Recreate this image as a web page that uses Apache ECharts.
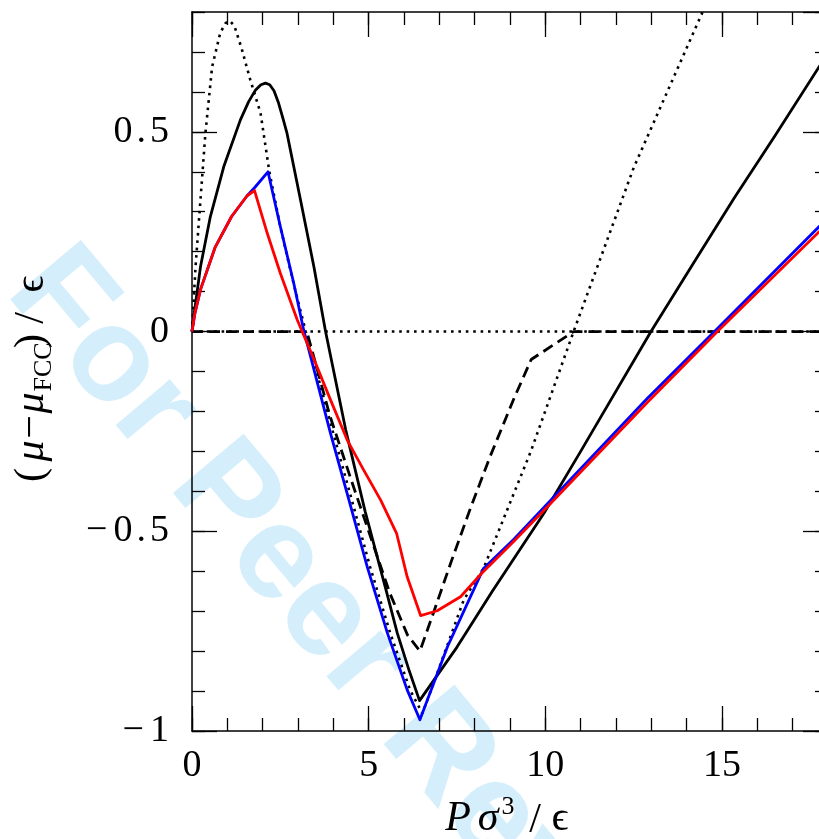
<!DOCTYPE html>
<html><head><meta charset="utf-8">
<script src="https://cdn.jsdelivr.net/npm/echarts@6/dist/echarts.min.js"></script>
<style>html,body{margin:0;padding:0;background:#fff}#c{width:819px;height:839px}</style>
</head><body><div id="c"></div>
<script>
// ---- data ----
const xRange = [0, 18];
const yRange = [-1, 0.8];

const zeroX = [0, 18];
const zeroY = [0, 0];

const dottedX = [0, 0.1, 0.24, 0.38, 0.57, 0.8, 0.95, 1.07, 1.2, 1.4, 1.65, 1.94, 2.19, 2.5, 2.87, 3.22, 4.0, 4.47, 5.04, 5.61, 6.17, 6.52, 6.84, 7.69, 8.25, 9.59, 10.8, 12.5, 14.45, 14.9];
const dottedY = [0, 0.162, 0.33, 0.497, 0.663, 0.748, 0.772, 0.778, 0.765, 0.71, 0.63, 0.547, 0.40, 0.262, 0.122, 0, -0.255, -0.405, -0.589, -0.755, -0.897, -0.956, -0.88, -0.672, -0.593, -0.3, 0, 0.41, 0.8, 0.9];

const dashedX = [0, 3.25, 3.9, 4.5, 5.0, 5.6, 6.1, 6.45, 6.85, 7.32, 7.89, 8.45, 9.1, 9.6, 10.8, 18];
const dashedY = [0, 0, -0.21, -0.37, -0.5, -0.655, -0.76, -0.80, -0.70, -0.58, -0.44, -0.31, -0.17, -0.07, 0, 0];

const solidX = [0, 0.05, 0.24, 0.52, 0.9, 1.37, 1.6, 1.8, 1.95, 2.08, 2.2, 2.32, 2.45, 2.57, 2.69, 3.07, 3.45, 3.78, 4.35, 4.9, 5.5, 5.81, 6.15, 6.44, 7.5, 8.5, 9.96, 11.0, 12.99, 14.2, 15.35, 16.5, 17.75, 18];
const solidY = [0, 0.037, 0.162, 0.288, 0.413, 0.53, 0.575, 0.605, 0.618, 0.622, 0.618, 0.603, 0.572, 0.535, 0.496, 0.33, 0.162, 0, -0.246, -0.45, -0.65, -0.755, -0.85, -0.924, -0.79, -0.65, -0.455, -0.30, 0.0, 0.172, 0.335, 0.49, 0.663, 0.697];

const blueX = [0, 0.08, 0.24, 0.65, 1.12, 1.56, 1.77, 2.15, 2.5, 2.88, 3.16, 3.92, 4.39, 4.96, 5.53, 6.09, 6.45, 7.23, 8.25, 9.11, 10.1, 12.89, 14.83, 17.75, 18];
const blueY = [0, 0.045, 0.105, 0.21, 0.288, 0.34, 0.36, 0.40, 0.263, 0.121, 0.004, -0.255, -0.405, -0.589, -0.755, -0.897, -0.972, -0.789, -0.593, -0.52, -0.427, -0.167, 0.004, 0.263, 0.285];

const redX = [0, 0.08, 0.24, 0.65, 1.12, 1.56, 1.77, 2.13, 2.5, 2.98, 3.45, 3.92, 4.39, 4.86, 5.34, 5.79, 6.09, 6.47, 6.94, 7.6, 8.2, 9.11, 10.1, 12.89, 14.87, 17.75, 18];
const redY = [0, 0.045, 0.105, 0.21, 0.288, 0.34, 0.353, 0.246, 0.146, 0.029, -0.069, -0.171, -0.271, -0.347, -0.422, -0.505, -0.614, -0.711, -0.699, -0.664, -0.605, -0.525, -0.435, -0.177, 0, 0.25, 0.272];

const xTickStep = 5, xMinorStep = 1;
const yTickStep = 0.5, yMinorStep = 0.1;
const watermarkText = 'For Peer Review';

// ---- chart ----
const zip = (xs, ys) => xs.map((x, i) => [x, ys[i]]);
const SERIF = '"Liberation Serif", "DejaVu Serif", serif';
const chart = echarts.init(document.getElementById('c'), null, {renderer: 'canvas'});

function fmtY(v) {
  if (Math.abs(v) < 1e-9) return '0';
  const s = String(Math.abs(v)).replace('.', '{d|.}');
  return (v < 0 ? '{m|\u2212}' : '') + s;
}
const labelRich = {
  d: {fontSize: 38, fontFamily: SERIF, color: '#000', padding: [0, 4, 0, 4]},
  m: {fontSize: 38, fontFamily: SERIF, color: '#000', padding: [0, 6, 0, 0]}
};
const lineBase = {show: true, onZero: false, lineStyle: {color: '#000', width: 1.5}};
function xAx(pos, step, len, major) {
  return {
    type: 'value', min: xRange[0], max: xRange[1], interval: step, position: pos,
    axisLine: major ? lineBase : {show: false, onZero: false},
    axisTick: {show: true, inside: true, length: len, lineStyle: {color: '#000', width: 1.3}},
    axisLabel: (major && pos === 'bottom') ? {show: true, showMaxLabel: false, fontSize: 38, fontFamily: SERIF, color: '#000', margin: 16} : {show: false},
    splitLine: {show: false}
  };
}
function yAx(pos, step, len, major) {
  return {
    type: 'value', min: yRange[0], max: yRange[1], interval: step, position: pos,
    axisLine: major ? lineBase : {show: false, onZero: false},
    axisTick: {show: true, inside: true, length: len, lineStyle: {color: '#000', width: 1.3}},
    axisLabel: (major && pos === 'left') ? {show: true, showMaxLabel: false, fontSize: 38, fontFamily: SERIF, color: '#000', margin: 23, formatter: fmtY, rich: labelRich} : {show: false},
    splitLine: {show: false}
  };
}

const mainFont = '42px ' + SERIF;
const itFont = 'italic 42px ' + SERIF;
const subFont = '26px ' + SERIF;

function txt(s, x, y, font) {
  return {type: 'text', x: x, y: y, style: {text: s, font: font, fill: '#000', align: 'center', verticalAlign: 'middle'}};
}

const option = {
  animation: false,
  backgroundColor: '#fff',
  grid: {left: 192, top: 12, width: 636, height: 719, containLabel: false, outerBoundsMode: 'none'},
  xAxis: [xAx('bottom', xTickStep, 25, true), xAx('bottom', xMinorStep, 13, false), xAx('top', xTickStep, 25, true), xAx('top', xMinorStep, 13, false)],
  yAxis: [yAx('left', yTickStep, 25, true), yAx('left', yMinorStep, 13, false), yAx('right', yTickStep, 25, true), yAx('right', yMinorStep, 13, false)],
  graphic: [
    {type: 'text', z: -10, x: 368, y: 668, rotation: -50 * Math.PI / 180,
     style: {text: watermarkText, font: 'bold 134px "Liberation Sans", Arial, sans-serif', fill: '#d4effb', align: 'center', verticalAlign: 'middle'}},
    {type: 'group', x: 32, y: 490, rotation: Math.PI / 2, children: [
      txt('(', 15, 0, mainFont),
      txt('\u03bc', 39, 0, itFont),
      txt('\u2212', 63, 0, mainFont),
      txt('\u03bc', 87, 0, itFont),
      txt('FCC', 123, 12, subFont),
      txt(')', 149, 0, mainFont),
      txt('/', 172, 0, mainFont),
      txt('\u03f5', 206, 0, mainFont)
    ]},
    {type: 'group', x: 0, y: 819, children: [
      txt('P', 458, 0, itFont),
      txt('\u03c3', 488, 0, itFont),
      txt('3', 508, -12, subFont),
      txt('/', 535, 2, mainFont),
      txt('\u03f5', 560, 0, mainFont)
    ]}
  ],
  series: [
    {type: 'line', name: 'zero', data: zip(zeroX, zeroY), showSymbol: false, symbol: 'none', lineStyle: {color: '#000', width: 2.6, type: [2.6, 4.8]}, z: 2},
    {type: 'line', name: 'dotted', data: zip(dottedX, dottedY), showSymbol: false, symbol: 'none', lineStyle: {color: '#000', width: 2.6, type: [2.6, 4.8]}, z: 3},
    {type: 'line', name: 'dashed', data: zip(dashedX, dashedY), showSymbol: false, symbol: 'none', lineStyle: {color: '#000', width: 2.8, type: [11, 6]}, z: 4},
    {type: 'line', name: 'solid', data: zip(solidX, solidY), showSymbol: false, symbol: 'none', lineStyle: {color: '#000', width: 2.8, join: 'round'}, z: 5},
    {type: 'line', name: 'blue', data: zip(blueX, blueY), showSymbol: false, symbol: 'none', lineStyle: {color: '#0000ff', width: 2.8, join: 'round'}, z: 6},
    {type: 'line', name: 'red', data: zip(redX, redY), showSymbol: false, symbol: 'none', lineStyle: {color: '#ff0000', width: 2.8, join: 'round'}, z: 7}
  ]
};
chart.setOption(option);
</script>
</body></html>
